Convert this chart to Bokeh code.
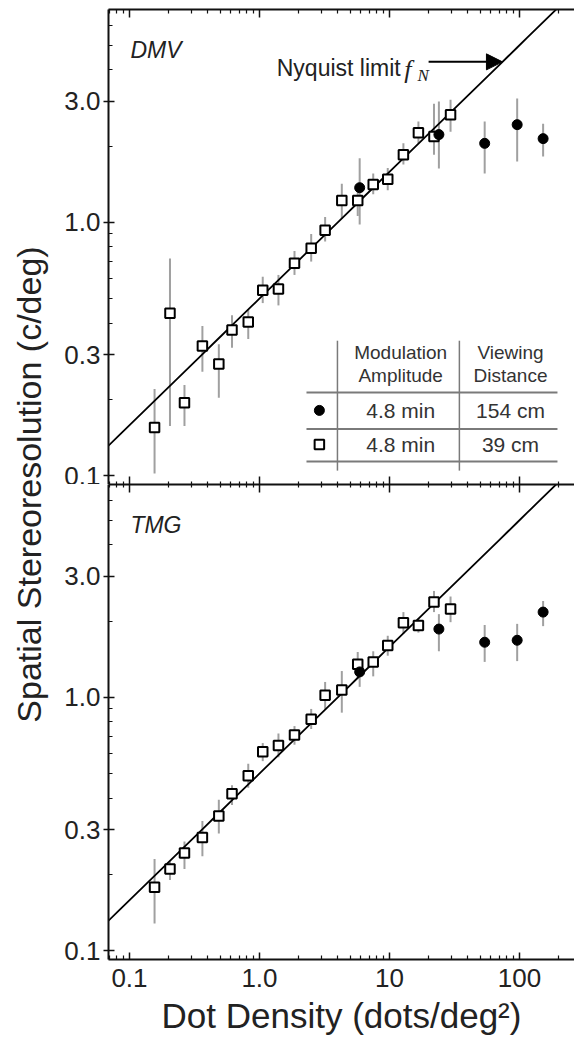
import numpy as np
from bokeh.plotting import figure
from bokeh.models import (FixedTicker, LogAxis, CustomJSTickFormatter, Range1d,
                          Arrow, NormalHead)
from bokeh.layouts import row, column
from bokeh.embed import file_html
from bokeh.resources import INLINE
from bokeh.core.properties import value

FONT = "Liberation Sans"

# ---------------- data ----------------
# open squares: 4.8 min modulation, 39 cm viewing distance
dens_39 = [0.156, 0.205, 0.265, 0.364, 0.487, 0.615, 0.82, 1.06, 1.4, 1.86,
           2.5, 3.2, 4.3, 5.7, 7.5, 9.7, 12.8, 16.7, 22.0, 29.5]
# filled circles: 4.8 min modulation, 154 cm viewing distance
dens_154 = [5.9, 24.0, 54.0, 96.0, 152.0]

dmv_39 = [0.155, 0.438, 0.194, 0.325, 0.276, 0.376, 0.404, 0.54, 0.545, 0.69,
          0.79, 0.93, 1.22, 1.22, 1.41, 1.48, 1.85, 2.26, 2.18, 2.66]
dmv_39_lo = [0.102, 0.157, 0.157, 0.257, 0.203, 0.32, 0.346, 0.48, 0.47, 0.62,
             0.70, 0.84, 1.03, 1.06, 1.29, 1.34, 1.69, 2.05, 1.85, 2.28]
dmv_39_hi = [0.22, 0.72, 0.228, 0.39, 0.33, 0.43, 0.454, 0.61, 0.62, 0.77,
             0.90, 1.05, 1.42, 1.38, 1.56, 1.64, 2.05, 2.5, 2.94, 3.05]
dmv_154 = [1.37, 2.22, 2.05, 2.43, 2.14]
dmv_154_lo = [0.98, 1.63, 1.56, 1.74, 1.82]
dmv_154_hi = [1.79, 3.0, 2.5, 3.08, 2.45]

tmg_39 = [0.178, 0.21, 0.243, 0.28, 0.34, 0.416, 0.49, 0.61, 0.645, 0.71,
          0.82, 1.02, 1.07, 1.35, 1.38, 1.6, 1.97, 1.92, 2.38, 2.23]
tmg_39_lo = [0.128, 0.19, 0.21, 0.236, 0.29, 0.376, 0.44, 0.56, 0.58, 0.65,
             0.75, 0.90, 0.87, 1.18, 1.21, 1.46, 1.78, 1.80, 2.17, 1.98]
tmg_39_hi = [0.23, 0.225, 0.27, 0.325, 0.394, 0.45, 0.547, 0.66, 0.72, 0.77,
             0.90, 1.15, 1.27, 1.51, 1.52, 1.75, 2.17, 2.05, 2.63, 2.5]
tmg_154 = [1.26, 1.86, 1.65, 1.68, 2.17]
tmg_154_lo = [1.10, 1.52, 1.38, 1.39, 1.91]
tmg_154_hi = [1.40, 2.13, 1.93, 1.95, 2.40]

x_major = [0.1, 1, 10, 100]
x_minor = [0.07, 0.08, 0.09, 0.2, 0.3, 0.4, 0.5, 0.6, 0.7, 0.8, 0.9,
           2, 3, 4, 5, 6, 7, 8, 9, 20, 30, 40, 50, 60, 70, 80, 90, 200]
y_major = [0.1, 0.3, 1, 3]
y_minor = [0.2, 0.4, 0.5, 0.6, 0.7, 0.8, 0.9, 2, 4, 5, 6]

table_amp = ["4.8 min", "4.8 min"]
table_dist = ["154 cm", "39 cm"]

X_RANGE = (0.069, 265)
Y_RANGE = (0.0923, 6.92)

# ---------------- layout constants ----------------
LAB_W = 58
PANEL_W = 516
TOP_H = 484
BOT_H = 556

XFMT = "return tick < 1.5 ? tick.toFixed(1) : tick.toFixed(0);"
YFMT = "return tick.toFixed(1);"
NOFMT = "return '';"


def style_axis(ax, ticker, fmt, labels=True, tin=6, tout=5, min_in=4, min_out=0):
    ax.ticker = ticker
    ax.axis_line_width = 2
    ax.axis_line_color = "#111111"
    ax.major_tick_line_width = 1.5
    ax.minor_tick_line_width = 1.2
    ax.major_tick_line_color = "#111111"
    ax.minor_tick_line_color = "#111111"
    ax.major_tick_in = tin
    ax.major_tick_out = tout
    ax.minor_tick_in = min_in
    ax.minor_tick_out = min_out
    if labels:
        ax.formatter = CustomJSTickFormatter(code=fmt)
        ax.major_label_text_font = FONT
        ax.major_label_text_font_size = "26px"
        ax.major_label_text_color = "#222222"
        ax.major_label_standoff = 3
    else:
        ax.formatter = CustomJSTickFormatter(code=NOFMT)
        ax.major_label_text_font_size = "1px"
        ax.major_label_standoff = 0


def make_panel(is_top, sq_y, sq_lo, sq_hi, fc_y, fc_lo, fc_hi, name):
    p = figure(width=PANEL_W, height=TOP_H if is_top else BOT_H,
               x_axis_type="log", y_axis_type="log",
               x_range=Range1d(*X_RANGE), y_range=Range1d(*Y_RANGE),
               output_backend="svg", toolbar_location=None,
               min_border_left=50, min_border_right=0,
               min_border_top=9 if is_top else 0,
               min_border_bottom=0 if is_top else 81)
    p.outline_line_color = None
    p.grid.visible = False

    left_ax = p.left[0]
    bottom_ax = p.below[0]
    xt = lambda: FixedTicker(ticks=x_major, minor_ticks=x_minor)
    yt = FixedTicker(ticks=y_major, minor_ticks=y_minor)

    style_axis(left_ax, yt, YFMT, labels=True, tin=6, tout=5, min_in=4)
    top_ax = LogAxis()
    p.add_layout(top_ax, "above")
    if is_top:
        style_axis(top_ax, xt(), XFMT, labels=False, tin=8, tout=0, min_in=4)
        style_axis(bottom_ax, xt(), XFMT, labels=False, tin=8, tout=0, min_in=3)
    else:
        style_axis(top_ax, xt(), XFMT, labels=False, tin=8, tout=0, min_in=3)
        style_axis(bottom_ax, xt(), XFMT, labels=True, tin=7, tout=0, min_in=4)
        bottom_ax.major_label_standoff = 9
        bottom_ax.axis_label = "Dot Density (dots/deg\u00b2)"
        bottom_ax.axis_label_text_font = FONT
        bottom_ax.axis_label_text_font_size = "35px"
        bottom_ax.axis_label_text_font_style = "normal"
        bottom_ax.axis_label_text_color = "#222222"
        bottom_ax.axis_label_standoff = 6

    # error bars
    p.segment(x0=dens_39, y0=sq_lo, x1=dens_39, y1=sq_hi,
              line_color="#a0a0a0", line_width=2)
    p.segment(x0=dens_154, y0=fc_lo, x1=dens_154, y1=fc_hi,
              line_color="#a0a0a0", line_width=2)

    # Nyquist limit f_N = sqrt(density) / 2
    nx = np.logspace(np.log10(X_RANGE[0]), np.log10(X_RANGE[1]), 50)
    p.line(nx, np.sqrt(nx) / 2.0, line_color="black", line_width=1.8)

    p.scatter(dens_39, sq_y, marker="square", size=9.5, fill_color="white",
              line_color="black", line_width=2)
    p.scatter(dens_154, fc_y, marker="circle", size=10, fill_color="black",
              line_color="black")

    p.text(x=[0.1017], y=[4.77], text=[name], text_font=value(FONT),
           text_font_size="23px", text_font_style="italic",
           text_color="#222222", text_align="left", text_baseline="alphabetic")
    return p


top = make_panel(True, dmv_39, dmv_39_lo, dmv_39_hi, dmv_154, dmv_154_lo,
                 dmv_154_hi, "DMV")
bot = make_panel(False, tmg_39, tmg_39_lo, tmg_39_hi, tmg_154, tmg_154_lo,
                 tmg_154_hi, "TMG")

# Nyquist annotation (top panel)
ARROW_Y = 4.3
top.text(x=[12.2], y=[4.08], text=["Nyquist limit"], text_font=value(FONT),
         text_font_size="23px", text_color="#222222", text_align="right",
         text_baseline="alphabetic")
top.text(x=[13.0], y=[4.0], text=["f"], text_font=value("Liberation Serif"),
         text_font_size="26px", text_font_style="italic", text_color="#222222",
         text_align="left", text_baseline="alphabetic")
top.text(x=[16.4], y=[3.79], text=["N"], text_font=value("Liberation Serif"),
         text_font_size="17px", text_font_style="italic", text_color="#222222",
         text_align="left", text_baseline="alphabetic")
top.add_layout(Arrow(end=NormalHead(size=16, fill_color="black", line_color="black"),
                     x_start=20.0, y_start=ARROW_Y,
                     x_end=(2 * ARROW_Y) ** 2, y_end=ARROW_Y,
                     line_color="black", line_width=2))

# Legend table (top panel)
TBL_LINE = "#7a7a7a"
top.segment(x0=[3.98, 34.5], y0=[0.341, 0.341], x1=[3.98, 34.5], y1=[0.1047, 0.1047],
            line_color=TBL_LINE, line_width=1.5)
top.segment(x0=[2.30, 2.30, 2.30], y0=[0.213, 0.153, 0.1137],
            x1=[196, 196, 196], y1=[0.213, 0.153, 0.1137],
            line_color=TBL_LINE, line_width=2)
top.text(x=[12.2, 12.2, 85.3, 85.3], y=[0.306, 0.248, 0.306, 0.248],
         text=["Modulation", "Amplitude", "Viewing", "Distance"],
         text_font=value(FONT), text_font_size="19px", text_color="#333333",
         text_align="center", text_baseline="middle")
top.text(x=[12.2, 12.2], y=[0.181, 0.1327], text=table_amp,
         text_font=value(FONT), text_font_size="21px", text_color="#333333",
         text_align="center", text_baseline="middle")
top.text(x=[85.3, 85.3], y=[0.181, 0.1327], text=table_dist,
         text_font=value(FONT), text_font_size="21px", text_color="#333333",
         text_align="center", text_baseline="middle")
top.scatter([2.89], [0.181], marker="circle", size=10, fill_color="black",
            line_color="black")
top.scatter([2.89], [0.1327], marker="square", size=9.5, fill_color="white",
            line_color="black", line_width=2)

# Shared y-axis title
lab = figure(width=LAB_W, height=TOP_H + BOT_H, x_range=Range1d(0, LAB_W),
             y_range=Range1d(0, TOP_H + BOT_H), output_backend="svg",
             toolbar_location=None, x_axis_location=None, y_axis_location=None,
             min_border=0)
lab.grid.visible = False
lab.outline_line_color = None
lab.text(x=[28], y=[556], text=["Spatial Stereoresolution (c/deg)"],
         angle=np.pi / 2, text_font=value(FONT), text_font_size="34px",
         text_color="#222222", text_align="center", text_baseline="middle")

layout = row(lab, column(top, bot))
open("out.html", "w").write(file_html(layout, INLINE))
